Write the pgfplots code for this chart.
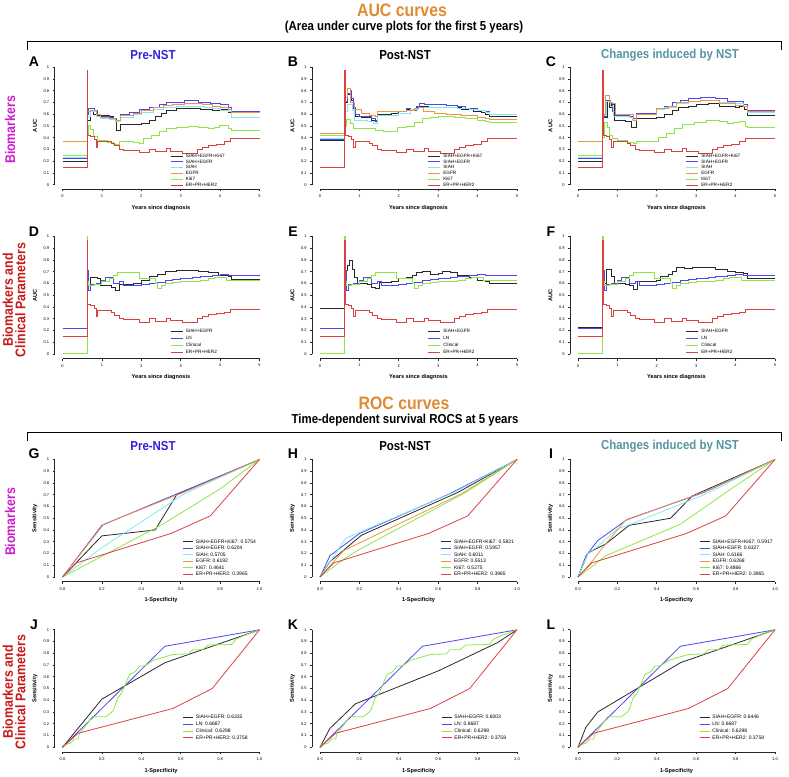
\documentclass[border=0pt]{standalone}
\usepackage{fontspec}
\setmainfont{Liberation Sans}
\newfontfamily\condfont[FakeStretch=0.88]{Liberation Sans}
\usepackage{pgfplots}
\usepackage{pgfplotstable}
\pgfplotsset{compat=1.18}

\definecolor{cBlack}{RGB}{40,40,40}
\definecolor{cBlue}{RGB}{80,70,240}
\definecolor{cCyan}{RGB}{130,232,245}
\definecolor{cOrange}{RGB}{235,150,70}
\definecolor{cGreen}{RGB}{140,230,70}
\definecolor{cRed}{RGB}{220,65,65}
\definecolor{tOrange}{RGB}{224,138,50}
\definecolor{tBlue}{RGB}{50,30,225}
\definecolor{tTeal}{RGB}{85,150,160}
\definecolor{tMagenta}{RGB}{205,30,205}
\definecolor{tRed}{RGB}{200,25,25}

\pgfplotsset{
  rbase/.style={
    scale only axis, width=197pt, height=117.5pt,
    axis lines*=left, axis line style={-, line width=0.8pt, black!85},
    axis x line shift=4.7pt, axis y line shift=7.9pt,
    enlargelimits=false, clip=false,
    tick align=outside, major tick length=2pt, tick style={line width=0.7pt, black!85},
    ymin=0, ymax=1,
    ytick={0,0.1,0.2,0.3,0.4,0.5,0.6,0.7,0.8,0.9,1},
    yticklabels={0,0.1,0.2,0.3,0.4,0.5,0.6,0.7,0.8,0.9,1},
    tick label style={font=\fontsize{4}{4}\selectfont},
    every axis x label/.style={at={(axis description cs:0.5,-0.2)}, anchor=center,
      font=\bfseries\fontsize{5.6}{6}\selectfont},
    every axis y label/.style={at={(axis description cs:-0.14,0.5)}, anchor=center, rotate=90,
      font=\bfseries\fontsize{5.6}{6}\selectfont},
    legend cell align=left,
    legend style={draw=none, fill=none, inner sep=0pt, outer sep=0pt, column sep=2.5pt,
      nodes={inner sep=0pt, text height=3.4pt, text depth=1pt}, anchor=north west},
    after end axis/.code={
      \draw[line width=0.8pt, black!85] ([yshift=-4.7pt]rel axis cs:0,0) -- ([yshift=-4.7pt]rel axis cs:1,0);
      \draw[line width=0.8pt, black!85] ([xshift=-7.9pt]rel axis cs:0,0) -- ([xshift=-7.9pt]rel axis cs:0,1);
    },
  },
  auc/.style={rbase, xmin=0, xmax=5, xtick={0,1,2,3,4,5}, xticklabels={0,1,2,3,4,5},
    xlabel={Years since diagnosis}, ylabel={AUC},
    legend image code/.code={\draw[##1] (0pt,0pt) -- (12pt,0pt);},
    legend style={font=\fontsize{4.7}{5}\selectfont},
    every axis plot/.append style={const plot, line width=0.85pt}},
  roc/.style={rbase, xmin=0, xmax=1, xtick={0,0.2,0.4,0.6,0.8,1},
    xticklabels={0.0,0.2,0.4,0.6,0.8,1.0},
    xlabel={1-Specificity}, ylabel={Sensitivity},
    legend image code/.code={\draw[##1] (0pt,0pt) -- (10pt,0pt);},
    legend style={font=\fontsize{5}{5.5}\selectfont},
    every axis plot/.append style={line width=0.8pt}},
}

% shared AUC series
\pgfplotstableread{
x y
0 0.147
0.62 0.97
0.635 0.42
0.72 0.41
0.80 0.385
0.86 0.32
0.89 0.372
1.25 0.35
1.32 0.33
1.45 0.30
1.55 0.29
1.95 0.272
2.2 0.30
2.36 0.28
2.64 0.305
2.75 0.287
3.05 0.27
3.42 0.30
3.55 0.32
3.7 0.335
3.9 0.345
4.1 0.365
4.25 0.3965
5 0.3965
}\redAUCa
\pgfplotstableread{
x y
0 0.147
0.62 0.97
0.635 0.42
0.72 0.41
0.80 0.385
0.86 0.32
0.89 0.372
1.25 0.35
1.32 0.33
1.45 0.30
1.55 0.29
1.95 0.272
2.2 0.30
2.36 0.28
2.64 0.305
2.75 0.287
3.05 0.27
3.42 0.30
3.55 0.32
3.7 0.335
3.9 0.345
4.1 0.358
4.25 0.3758
5 0.3758
}\redAUCb
\pgfplotstableread{
x y
0 0.215
0.62 0.71
0.66 0.54
0.72 0.59
0.85 0.60
1.0 0.63
1.1 0.65
1.25 0.655
1.3 0.60
1.45 0.615
1.55 0.58
1.8 0.585
2.0 0.595
2.2 0.60
2.4 0.61
2.6 0.625
2.8 0.635
3.0 0.645
3.3 0.65
3.5 0.66
3.8 0.665
4.0 0.675
4.1 0.68
4.2 0.6687
5 0.6687
}\lnAUC
\pgfplotstableread{
x y
0 0.005
0.62 1.0
0.635 0.62
0.67 0.58
0.8 0.59
1.0 0.62
1.2 0.645
1.3 0.67
1.4 0.69
1.95 0.645
2.2 0.64
2.35 0.60
2.4 0.56
2.5 0.58
2.6 0.60
2.8 0.61
3.0 0.62
3.5 0.625
3.7 0.64
3.85 0.65
4.0 0.655
4.15 0.63
4.3 0.6298
5 0.6298
}\clinAUC
% shared ROC series
\pgfplotstableread{
x y
0 0
0.07 0.12
0.55 0.37
0.75 0.52
1 1
}\redROCa
\pgfplotstableread{
x y
0 0
0.08 0.12
0.56 0.33
0.76 0.50
1 1
}\redROCb
\pgfplotstableread{
x y
0 0
0.52 0.86
1 1
}\lnROC
\pgfplotstableread{
x y
0 0.017
0.04 0.034
0.06 0.07
0.08 0.07
0.085 0.115
0.13 0.21
0.15 0.26
0.22 0.26
0.25 0.30
0.26 0.32
0.28 0.42
0.29 0.44
0.30 0.46
0.32 0.54
0.34 0.62
0.37 0.645
0.39 0.69
0.42 0.695
0.46 0.74
0.51 0.765
0.56 0.79
0.64 0.795
0.66 0.83
0.71 0.83
0.74 0.87
0.86 0.875
0.88 0.92
0.92 0.95
1 1
}\clinROC

\begin{document}
\begin{tikzpicture}[x=1pt,y=1pt]
\path[use as bounding box] (0,0) rectangle (789,776);

% ---------- titles and brackets ----------
\node[font=\condfont\bfseries\fontsize{18}{18}\selectfont, text=tOrange] at (402,766) {AUC curves};
\node[font=\condfont\bfseries\fontsize{13}{13}\selectfont] at (404,749) {(Area under curve plots for the first 5 years)};
\draw[line width=0.8pt] (27,726) -- (27,735) -- (781,735) -- (781,726);
\node[font=\condfont\bfseries\fontsize{18}{18}\selectfont, text=tOrange] at (404,372.5) {ROC curves};
\node[font=\condfont\bfseries\fontsize{13}{13}\selectfont] at (405,356) {Time-dependent survival ROCS at 5 years};
\draw[line width=0.8pt] (27,334.5) -- (27,343.3) -- (781,343.3) -- (781,334.5);

\foreach \yy in {721,330}{
  \node[font=\condfont\bfseries\fontsize{13}{13}\selectfont, text=tBlue] at (153,\yy) {Pre-NST};
  \node[font=\condfont\bfseries\fontsize{13}{13}\selectfont] at (405,\yy) {Post-NST};
  \node[font=\condfont\bfseries\fontsize{13}{13}\selectfont, text=tTeal] at (670,\yy) {Changes induced by NST};
}
\foreach \lab/\xx/\yy in {A/34/714,B/293/714,C/551/714,D/34/544.3,E/293/544.3,F/551/544.3,
                         G/34/322,H/293/322,I/551/322,J/34/151,K/293/151,L/551/151}{
  \node[font=\bfseries\fontsize{14}{14}\selectfont] at (\xx,\yy) {\lab};
}
\foreach \yy in {646,254}{
  \node[rotate=90, font=\condfont\bfseries\fontsize{14}{14}\selectfont, text=tMagenta] at (10,\yy) {Biomarkers};
}
\foreach \yy in {476,84}{
  \node[rotate=90, align=center, font=\condfont\bfseries\fontsize{14}{12.5}\selectfont, text=tRed] at (14,\yy) {Biomarkers and\\Clinical Parameters};
}

% ================= AUC panels =================
% A
\begin{axis}[auc, at={(62.5pt,591.3pt)}, anchor=south west,
  legend style={at={(axis description cs:0.548,0.262)}, row sep=1.4pt}]
\addplot[cBlack] coordinates {(0,0.20) (0.62,0.55) (0.70,0.62) (0.78,0.60) (0.85,0.59) (1.2,0.58) (1.3,0.565) (1.37,0.46) (1.47,0.51) (2.0,0.525) (2.2,0.55) (2.35,0.58) (2.5,0.61) (2.65,0.63) (2.9,0.645) (3.2,0.65) (3.5,0.64) (3.8,0.63) (4.0,0.64) (4.2,0.615) (4.3,0.5754) (5,0.5754)};
\addplot[cBlue] coordinates {(0,0.22) (0.62,0.60) (0.66,0.65) (0.8,0.63) (0.88,0.585) (1.2,0.575) (1.3,0.56) (1.38,0.545) (1.47,0.60) (1.7,0.615) (1.95,0.64) (2.2,0.66) (2.45,0.68) (2.65,0.70) (3.1,0.715) (3.45,0.70) (3.75,0.69) (4.0,0.685) (4.2,0.66) (4.3,0.6204) (5,0.6204)};
\addplot[cCyan] coordinates {(0,0.23) (0.62,0.58) (0.7,0.625) (0.85,0.58) (0.95,0.565) (1.2,0.555) (1.35,0.535) (1.47,0.575) (1.8,0.595) (2.0,0.615) (2.3,0.64) (2.55,0.655) (2.9,0.665) (3.3,0.67) (3.6,0.66) (3.8,0.645) (4.0,0.635) (4.2,0.625) (4.3,0.5705) (5,0.5705)};
\addplot[cOrange] coordinates {(0,0.367) (0.62,0.62) (0.7,0.63) (0.85,0.60) (0.95,0.575) (1.2,0.565) (1.35,0.55) (1.47,0.59) (1.8,0.61) (2.0,0.63) (2.3,0.655) (2.55,0.675) (2.8,0.685) (3.1,0.69) (3.55,0.68) (3.8,0.665) (4.0,0.655) (4.2,0.64) (4.3,0.6192) (5,0.6192)};
\addplot[cGreen] coordinates {(0,0.247) (0.62,0.42) (0.66,0.505) (0.72,0.47) (0.78,0.41) (0.88,0.375) (1.15,0.36) (1.3,0.345) (1.45,0.37) (1.8,0.362) (1.95,0.355) (2.05,0.39) (2.25,0.42) (2.45,0.45) (2.65,0.48) (2.9,0.49) (3.2,0.50) (3.45,0.49) (3.7,0.48) (3.85,0.49) (3.98,0.505) (4.2,0.48) (4.3,0.4641) (5,0.4641)};
\addplot[cRed] table {\redAUCa};
\legend{SIAH+EGFR+Ki67,SIAH+EGFR,SIAH,EGFR,Ki67,ER+PR+HER2}
\end{axis}
% B
\begin{axis}[auc, at={(320pt,591.3pt)}, anchor=south west,
  legend style={at={(axis description cs:0.548,0.262)}, row sep=1.4pt}]
\addplot[cBlack] coordinates {(0,0.38) (0.62,0.70) (0.7,0.77) (0.76,0.79) (0.8,0.72) (0.85,0.65) (0.9,0.58) (1.05,0.575) (1.3,0.55) (1.4,0.535) (1.47,0.60) (1.8,0.61) (2.0,0.62) (2.2,0.64) (2.35,0.63) (2.45,0.655) (2.55,0.67) (2.75,0.66) (3.3,0.655) (3.6,0.64) (3.9,0.625) (4.1,0.615) (4.2,0.60) (4.3,0.5821) (5,0.5821)};
\addplot[cBlue] coordinates {(0,0.385) (0.62,0.71) (0.7,0.78) (0.76,0.80) (0.8,0.73) (0.85,0.66) (0.9,0.60) (1.0,0.58) (1.3,0.565) (1.4,0.545) (1.47,0.62) (2.0,0.625) (2.2,0.65) (2.3,0.635) (2.45,0.665) (2.52,0.695) (2.65,0.68) (2.95,0.685) (3.2,0.675) (3.5,0.665) (3.7,0.65) (4.0,0.635) (4.2,0.62) (4.3,0.5957) (5,0.5957)};
\addplot[cCyan] coordinates {(0,0.39) (0.62,0.62) (0.7,0.68) (0.82,0.63) (0.88,0.55) (1.2,0.535) (1.35,0.525) (1.47,0.59) (2.0,0.61) (2.3,0.64) (2.5,0.655) (2.9,0.66) (3.5,0.65) (3.8,0.64) (4.0,0.63) (4.2,0.615) (4.3,0.6011) (5,0.6011)};
\addplot[cOrange] coordinates {(0,0.435) (0.62,0.74) (0.7,0.82) (0.78,0.70) (0.88,0.64) (1.05,0.61) (1.25,0.59) (1.4,0.58) (1.47,0.625) (2.0,0.62) (2.2,0.63) (2.4,0.645) (2.5,0.66) (2.62,0.62) (2.9,0.61) (3.2,0.60) (3.6,0.59) (4.0,0.575) (4.2,0.565) (4.3,0.5513) (5,0.5513)};
\addplot[cGreen] coordinates {(0,0.418) (0.62,0.50) (0.68,0.553) (0.78,0.52) (0.85,0.48) (1.25,0.475) (1.4,0.465) (1.6,0.455) (1.97,0.49) (2.2,0.50) (2.4,0.53) (2.6,0.56) (2.8,0.57) (3.0,0.58) (3.4,0.575) (3.7,0.565) (4.0,0.55) (4.2,0.54) (4.3,0.5275) (5,0.5275)};
\addplot[cRed] table {\redAUCa};
\legend{SIAH+EGFR+Ki67,SIAH+EGFR,SIAH,EGFR,Ki67,ER+PR+HER2}
\end{axis}
% C
\begin{axis}[auc, at={(578pt,591.3pt)}, anchor=south west,
  legend style={at={(axis description cs:0.548,0.262)}, row sep=1.4pt}]
\addplot[cBlack] coordinates {(0,0.20) (0.62,0.57) (0.74,0.71) (0.8,0.66) (0.84,0.68) (0.92,0.55) (1.0,0.545) (1.2,0.54) (1.35,0.49) (1.47,0.56) (2.0,0.57) (2.2,0.60) (2.4,0.63) (2.55,0.66) (2.8,0.67) (3.0,0.685) (3.3,0.69) (3.6,0.67) (3.8,0.665) (4.0,0.655) (4.1,0.665) (4.22,0.64) (4.3,0.5917) (5,0.5917)};
\addplot[cBlue] coordinates {(0,0.22) (0.62,0.58) (0.72,0.72) (0.82,0.69) (0.88,0.62) (0.95,0.59) (1.3,0.585) (1.38,0.56) (1.47,0.61) (2.0,0.645) (2.2,0.67) (2.4,0.70) (2.6,0.72) (2.8,0.73) (3.1,0.74) (3.5,0.73) (3.8,0.71) (4.0,0.705) (4.2,0.68) (4.3,0.6327) (5,0.6327)};
\addplot[cCyan] coordinates {(0,0.23) (0.62,0.59) (0.72,0.71) (0.82,0.67) (0.9,0.58) (1.3,0.575) (1.38,0.55) (1.47,0.60) (2.0,0.64) (2.2,0.66) (2.5,0.69) (2.8,0.71) (3.1,0.72) (3.6,0.70) (4.0,0.695) (4.2,0.67) (4.3,0.6166) (5,0.6166)};
\addplot[cOrange] coordinates {(0,0.367) (0.62,0.60) (0.7,0.757) (0.8,0.70) (0.88,0.69) (0.95,0.60) (1.3,0.595) (1.4,0.55) (1.47,0.60) (2.0,0.65) (2.3,0.67) (2.5,0.70) (2.8,0.71) (3.1,0.715) (3.6,0.69) (4.0,0.675) (4.2,0.67) (4.3,0.6268) (5,0.6268)};
\addplot[cGreen] coordinates {(0,0.245) (0.62,0.40) (0.68,0.528) (0.75,0.49) (0.8,0.42) (0.88,0.39) (1.0,0.375) (1.25,0.36) (1.4,0.355) (1.47,0.37) (1.8,0.365) (2.05,0.40) (2.25,0.44) (2.45,0.48) (2.65,0.51) (2.95,0.53) (3.25,0.545) (3.6,0.535) (3.8,0.52) (3.95,0.53) (4.1,0.535) (4.25,0.50) (4.3,0.4866) (5,0.4866)};
\addplot[cRed] table {\redAUCa};
\legend{SIAH+EGFR+Ki67,SIAH+EGFR,SIAH,EGFR,Ki67,ER+PR+HER2}
\end{axis}
% D
\begin{axis}[auc, at={(62.5pt,422pt)}, anchor=south west,
  legend style={at={(axis description cs:0.548,0.214)}, row sep=2.7pt}]
\addplot[cBlack] coordinates {(0,0.215) (0.62,0.71) (0.66,0.58) (0.72,0.65) (0.88,0.645) (0.95,0.58) (1.25,0.57) (1.35,0.545) (1.45,0.59) (1.8,0.60) (2.0,0.63) (2.2,0.66) (2.4,0.68) (2.6,0.70) (2.9,0.71) (3.2,0.715) (3.45,0.70) (3.7,0.69) (3.95,0.67) (4.2,0.66) (4.3,0.6335) (5,0.6335)};
\addplot[cBlue] table {\lnAUC};
\addplot[cGreen] table {\clinAUC};
\addplot[cRed] table {\redAUCb};
\legend{SIAH+EGFR,LN,Clinical,ER+PR+HER2}
\end{axis}
% E
\begin{axis}[auc, at={(320pt,422pt)}, anchor=south west,
  legend style={at={(axis description cs:0.548,0.214)}, row sep=2.7pt}]
\addplot[cBlack] coordinates {(0,0.39) (0.62,0.71) (0.7,0.75) (0.74,0.80) (0.83,0.72) (0.88,0.65) (0.95,0.60) (1.2,0.595) (1.3,0.57) (1.4,0.555) (1.5,0.61) (1.8,0.615) (2.0,0.64) (2.2,0.65) (2.35,0.67) (2.45,0.69) (2.6,0.70) (2.8,0.68) (3.0,0.685) (3.1,0.70) (3.3,0.69) (3.5,0.67) (3.8,0.65) (4.0,0.625) (4.2,0.62) (4.3,0.6003) (5,0.6003)};
\addplot[cBlue] table {\lnAUC};
\addplot[cGreen] table {\clinAUC};
\addplot[cRed] table {\redAUCb};
\legend{SIAH+EGFR,LN,Clinical,ER+PR+HER2}
\end{axis}
% F
\begin{axis}[auc, at={(578pt,422pt)}, anchor=south west,
  legend style={at={(axis description cs:0.548,0.214)}, row sep=2.7pt}]
\addplot[cBlack] coordinates {(0,0.222) (0.62,0.71) (0.66,0.60) (0.72,0.72) (0.85,0.66) (0.92,0.60) (1.2,0.595) (1.3,0.58) (1.4,0.55) (1.5,0.62) (2.0,0.63) (2.1,0.66) (2.3,0.68) (2.4,0.70) (2.5,0.735) (2.7,0.73) (2.9,0.735) (3.2,0.74) (3.5,0.72) (3.8,0.705) (4.0,0.69) (4.2,0.685) (4.3,0.6446) (5,0.6446)};
\addplot[cBlue] table {\lnAUC};
\addplot[cGreen] table {\clinAUC};
\addplot[cRed] table {\redAUCb};
\legend{SIAH+EGFR,LN,Clinical,ER+PR+HER2}
\end{axis}

% ================= ROC panels =================
% G
\begin{axis}[roc, at={(62.5pt,199pt)}, anchor=south west,
  legend style={at={(axis description cs:0.61,0.318)}, row sep=2.1pt}]
\addplot[cBlack] coordinates {(0,0) (0.2,0.35) (0.47,0.40) (0.58,0.70) (1,1)};
\addplot[cBlue] coordinates {(0,0) (0.2,0.44) (0.57,0.70) (1,1)};
\addplot[cCyan] coordinates {(0,0) (0.2,0.25) (0.62,0.71) (1,1)};
\addplot[cOrange] coordinates {(0,0) (0.21,0.45) (0.6,0.71) (1,1)};
\addplot[cGreen] coordinates {(0,0) (0.51,0.45) (0.8,0.75) (1,1)};
\addplot[cRed] table {\redROCa};
\legend{SIAH+EGFR+Ki67: 0.5754,SIAH+EGFR: 0.6204,SIAH: 0.5705,EGFR: 0.6192,Ki67: 0.4641,ER+PR+HER2: 0.3965}
\end{axis}
% H
\begin{axis}[roc, at={(320pt,199pt)}, anchor=south west,
  legend style={at={(axis description cs:0.613,0.318)}, row sep=2.1pt}]
\addplot[cBlack] coordinates {(0,0) (0.05,0.13) (0.21,0.355) (0.7,0.72) (1,1)};
\addplot[cBlue] coordinates {(0,0) (0.05,0.18) (0.2,0.37) (0.66,0.71) (1,1)};
\addplot[cCyan] coordinates {(0,0) (0.08,0.2) (0.13,0.33) (0.2,0.38) (0.68,0.72) (1,1)};
\addplot[cOrange] coordinates {(0,0) (0.12,0.225) (0.72,0.71) (1,1)};
\addplot[cGreen] coordinates {(0,0) (0.12,0.15) (0.2,0.235) (0.74,0.72) (1,1)};
\addplot[cRed] table {\redROCa};
\legend{SIAH+EGFR+Ki67: 0.5821,SIAH+EGFR: 0.5957,SIAH: 0.6011,EGFR: 0.5513,Ki67: 0.5275,ER+PR+HER2: 0.3965}
\end{axis}
% I
\begin{axis}[roc, at={(578pt,199pt)}, anchor=south west,
  legend style={at={(axis description cs:0.616,0.318)}, row sep=2.1pt}]
\addplot[cBlack] coordinates {(0,0) (0.05,0.2) (0.08,0.23) (0.14,0.28) (0.26,0.44) (0.47,0.50) (0.58,0.69) (1,1)};
\addplot[cBlue] coordinates {(0,0) (0.04,0.18) (0.1,0.31) (0.25,0.49) (0.64,0.72) (1,1)};
\addplot[cCyan] coordinates {(0,0) (0.05,0.2) (0.1,0.26) (0.2,0.41) (0.27,0.45) (0.64,0.70) (1,1)};
\addplot[cOrange] coordinates {(0,0) (0.08,0.15) (0.12,0.24) (0.24,0.48) (0.65,0.73) (1,1)};
\addplot[cGreen] coordinates {(0,0) (0.08,0.1) (0.14,0.18) (0.52,0.45) (0.76,0.73) (1,1)};
\addplot[cRed] table {\redROCa};
\legend{SIAH+EGFR+Ki67: 0.5917,SIAH+EGFR: 0.6327,SIAH: 0.6166,EGFR: 0.6268,Ki67: 0.4866,ER+PR+HER2: 0.3965}
\end{axis}
% J
\begin{axis}[roc, at={(62.5pt,28.7pt)}, anchor=south west,
  legend style={at={(axis description cs:0.61,0.27)}, row sep=2.3pt}]
\addplot[cBlack] coordinates {(0,0) (0.2,0.41) (0.52,0.72) (1,1)};
\addplot[cBlue] table {\lnROC};
\addplot[cGreen] table {\clinROC};
\addplot[cRed] table {\redROCb};
\legend{SIAH+EGFR: 0.6335,LN: 0.6687,Clinical: 0.6298,ER+PR+HER2: 0.3758}
\end{axis}
% K
\begin{axis}[roc, at={(320pt,28.7pt)}, anchor=south west,
  legend style={at={(axis description cs:0.615,0.27)}, row sep=2.3pt}]
\addplot[cBlack] coordinates {(0,0) (0.05,0.16) (0.18,0.37) (0.6,0.65) (0.9,0.89) (1,1)};
\addplot[cBlue] table {\lnROC};
\addplot[cGreen] table {\clinROC};
\addplot[cRed] table {\redROCb};
\legend{SIAH+EGFR: 0.6003,LN: 0.6687,Clinical: 0.6298,ER+PR+HER2: 0.3758}
\end{axis}
% L
\begin{axis}[roc, at={(578pt,28.7pt)}, anchor=south west,
  legend style={at={(axis description cs:0.615,0.27)}, row sep=2.3pt}]
\addplot[cBlack] coordinates {(0,0) (0.04,0.17) (0.1,0.30) (0.52,0.72) (1,1)};
\addplot[cBlue] table {\lnROC};
\addplot[cGreen] table {\clinROC};
\addplot[cRed] table {\redROCb};
\legend{SIAH+EGFR: 0.6446,LN: 0.6687,Clinical: 0.6298,ER+PR+HER2: 0.3758}
\end{axis}
\end{tikzpicture}
\end{document}
